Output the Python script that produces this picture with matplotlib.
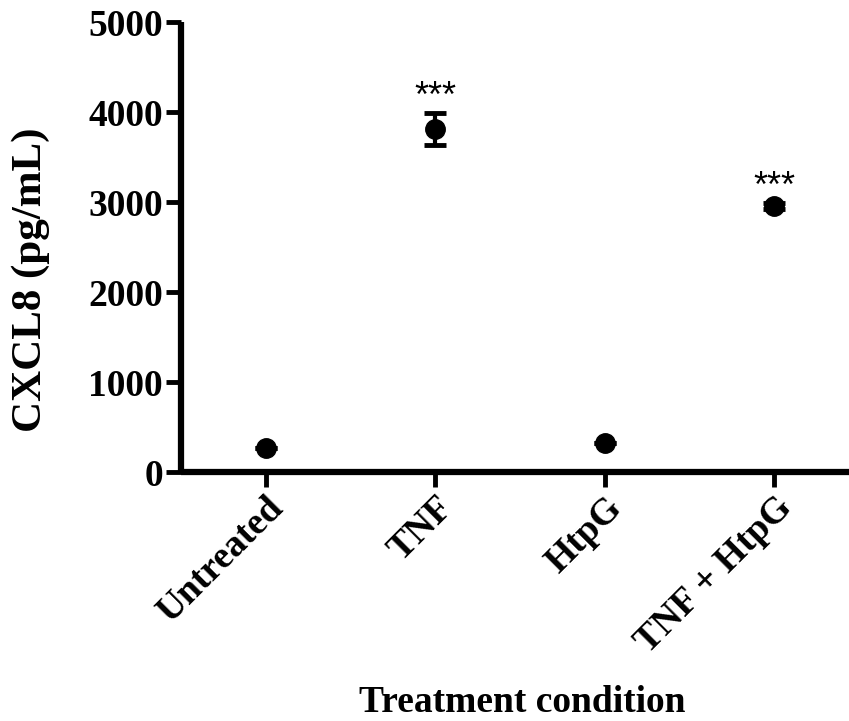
import matplotlib
matplotlib.use("Agg")
import matplotlib.pyplot as plt

categories = ["Untreated", "TNF", "HtpG", "TNF + HtpG"]
means = [270, 3810, 322, 2955]
errors = [0, 180, 0, 35]
stars = ["", "***", "", "***"]

W, H = 849, 721
fig = plt.figure(figsize=(W / 100, H / 100), dpi=100)
left = 181 / W
bottom = (H - 472) / H
top = (H - 22) / H
# x range -0.5..3.5 ; 169.5 px per category
width = 4 * 169.5 / W
ax = fig.add_axes([left, bottom, width, top - bottom])

x = list(range(len(categories)))
ax.errorbar(x, means, yerr=errors, fmt="o", color="black", markersize=14,
            elinewidth=3, capsize=8, capthick=3.5, zorder=3, clip_on=False)

for xi, m, e, s in zip(x, means, errors, stars):
    if s:
        ax.text(xi, m + e - 20, s, ha="center", va="bottom",
                fontsize=26, family="Liberation Sans", color="black")

ax.set_xlim(-0.5, 3.5)
ax.set_ylim(0, 5000)
ax.set_yticks([0, 1000, 2000, 3000, 4000, 5000])
ax.set_xticks(x)
ax.set_xticklabels(categories, rotation=45, ha="right", rotation_mode="anchor")

for sp in ["top", "right"]:
    ax.spines[sp].set_visible(False)
for sp in ["left", "bottom"]:
    ax.spines[sp].set_linewidth(4.5)
    ax.spines[sp].set_capstyle("butt")

ax.tick_params(axis="both", width=3.5, length=11, labelsize=27, pad=2)
for lab in ax.get_xticklabels() + ax.get_yticklabels():
    lab.set_family("Liberation Serif")
    lab.set_fontweight("bold")

fig.text(31 / W, (H - 280) / H, "CXCL8 (pg/mL)", rotation=90, ha="center", va="center",
         fontsize=31, family="Liberation Serif", fontweight="bold")
fig.text(522 / W, (H - 712) / H, "Treatment condition", ha="center", va="baseline",
         fontsize=27, family="Liberation Serif", fontweight="bold")

fig.savefig("out.png", dpi=100)
